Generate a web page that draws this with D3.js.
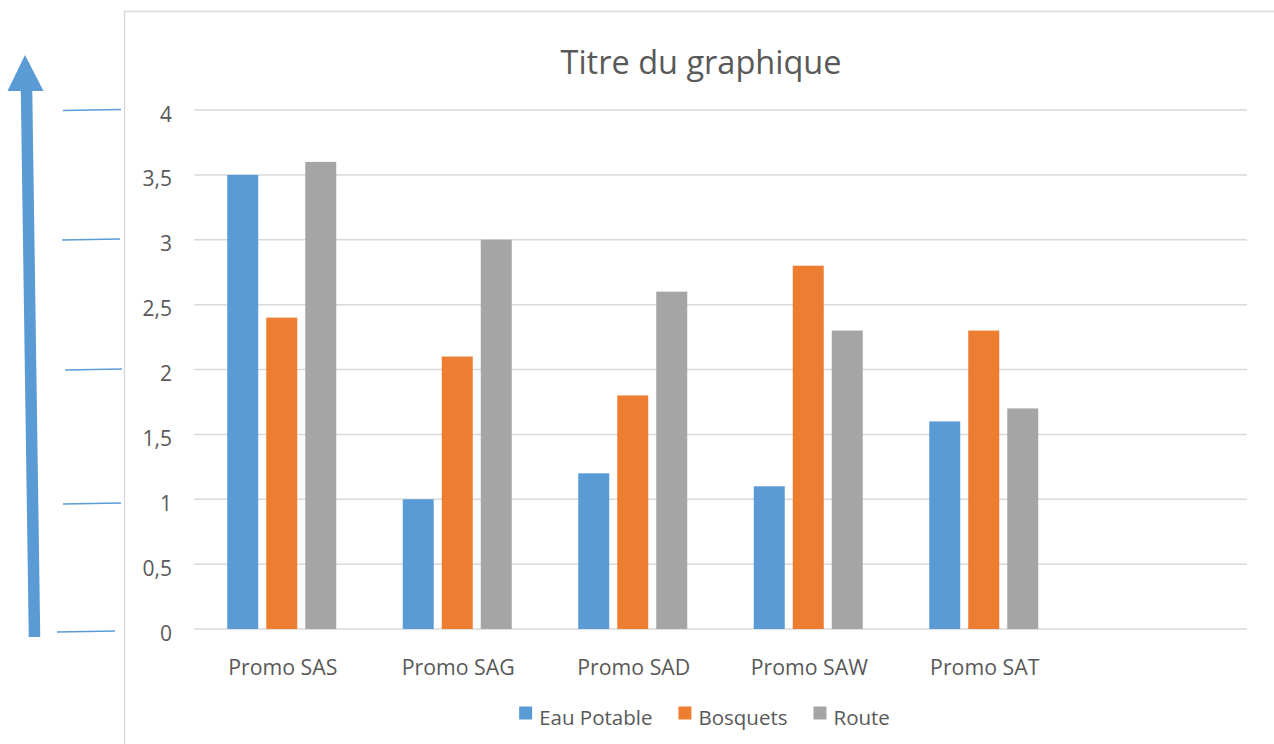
<!DOCTYPE html>
<html><head><meta charset="utf-8">
<script src="https://cdn.jsdelivr.net/npm/d3@7/dist/d3.min.js"></script>
<style>html,body{margin:0;padding:0;background:#fff;overflow:hidden}svg{display:block}text{font-family:"Open Sans",sans-serif;fill:#595959}</style>
</head><body>
<svg id="c" width="1274" height="744"></svg>
<script>
const categories = ["Promo SAS","Promo SAG","Promo SAD","Promo SAW","Promo SAT",""];
const series = ["Eau Potable","Bosquets","Route"];
const eauPotable = [3.5, 1.0, 1.2, 1.1, 1.6];
const bosquets   = [2.4, 2.1, 1.8, 2.8, 2.3];
const route      = [3.6, 3.0, 2.6, 2.3, 1.7];
const yTicks = [0, 0.5, 1, 1.5, 2, 2.5, 3, 3.5, 4];
const colors = ["#5B9BD5", "#ED7D31", "#A5A5A5"];
const title = "Titre du graphique";

const values = [eauPotable, bosquets, route];
const svg = d3.select("#c");

// chart frame
svg.append("rect").attr("x",124.5).attr("y",11.5).attr("width",1200).attr("height",800)
  .attr("fill","none").attr("stroke","#d9d9d9").attr("stroke-width",1.5);

const x0 = d3.scaleBand().domain(categories).range([194, 1247]);
const x1 = d3.scaleBand().domain(series).range([-54.5, 54.5]).paddingInner(8/39);
const y = d3.scaleLinear().domain([0, 4]).range([629, 110]);

// gridlines
svg.append("g").selectAll("line").data(yTicks).join("line")
  .attr("x1",194).attr("x2",1247).attr("y1",d=>y(d)).attr("y2",d=>y(d))
  .attr("stroke","#d9d9d9").attr("stroke-width",1.5);

// y tick labels
const fmt = d => String(d).replace(".", ",");
svg.append("g").selectAll("text").data(yTicks).join("text")
  .attr("x",172).attr("y",d=>y(d)+11.5).attr("text-anchor","end")
  .attr("font-size",21).text(fmt);

// bars
const rows = [];
categories.forEach((c,i)=>series.forEach((s,j)=>{ if (values[j][i] !== undefined) rows.push({c,s,j,v:values[j][i]}); }));
svg.append("g").selectAll("rect").data(rows).join("rect")
  .attr("x",d=>x0(d.c)+x0.bandwidth()/2 + x1(d.s))
  .attr("width",x1.bandwidth())
  .attr("y",d=>y(d.v)).attr("height",d=>y(0)-y(d.v))
  .attr("fill",d=>colors[d.j]);

// category labels
svg.append("g").selectAll("text").data(categories).join("text")
  .attr("x",d=>x0(d)+x0.bandwidth()/2 + 1).attr("y",675).attr("text-anchor","middle")
  .attr("font-size",21.3).text(d=>d);

// title
svg.append("text").attr("x",701).attr("y",73.5).attr("text-anchor","middle")
  .attr("font-size",32.5).text(title);

// legend
const lg = svg.append("g");
let lx = 0;
series.forEach((s,j)=>{
  const g = lg.append("g");
  g.append("rect").attr("x",0).attr("y",706.5).attr("width",13).attr("height",13).attr("fill",colors[j]);
  const t = g.append("text").attr("x",20).attr("y",725).attr("font-size",20.5).text(s);
  const w = 20 + t.node().getComputedTextLength();
  g.attr("transform",`translate(${lx},0)`);
  lx += w + 26;
});
const totalW = lx - 26;
lg.attr("transform",`translate(${704.5 - totalW/2},0)`);

// hand-drawn annotation: arrow and marker strokes
const annot = svg.append("g");
annot.append("line").attr("x1",34.5).attr("y1",637).attr("x2",26.5).attr("y2",88)
  .attr("stroke","#5B9BD5").attr("stroke-width",11.5);
annot.append("path").attr("d","M25,55 L43.5,91 L7.5,91 Z").attr("fill","#5B9BD5");
const marks = [[63,110.5,121,109.5],[62,240,120,239],[65,370,122,369],[63,504,121,503],[57,632,115,631]];
annot.selectAll(".m").data(marks).join("line").attr("class","m")
  .attr("x1",d=>d[0]).attr("y1",d=>d[1]).attr("x2",d=>d[2]).attr("y2",d=>d[3])
  .attr("stroke","#5B9BD5").attr("stroke-width",1.3);
</script>
</body></html>
